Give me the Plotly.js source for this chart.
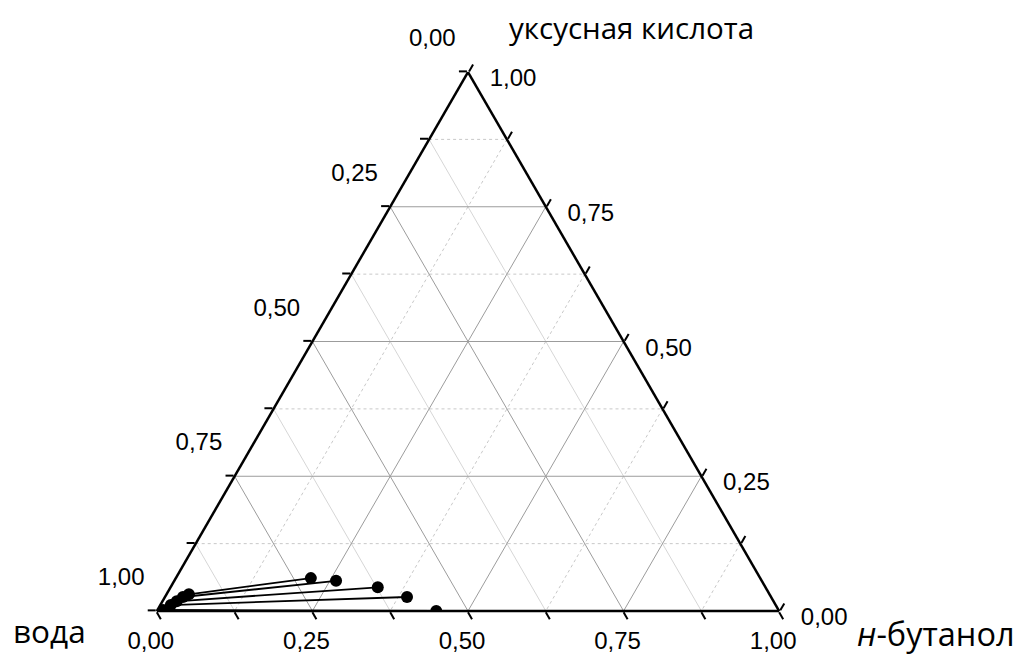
<!DOCTYPE html>
<html>
<head>
<meta charset="utf-8">
<script src="https://cdn.plot.ly/plotly-3.0.1.min.js"></script>
<style>html,body{margin:0;padding:0;background:#fff;}#chart{width:1021px;height:655px;}</style>
</head>
<body>
<div id="chart"></div>
<script>
// ---- data (mole fractions) ----
// aqueous (water-rich) phase ends of tie lines
const aqAcetic  = [0.031, 0.026, 0.018, 0.011, 0.002];
const aqButanol = [0.036, 0.029, 0.023, 0.017, 0.009];
// organic (butanol-rich) phase ends of tie lines
const orgAcetic  = [0.061, 0.056, 0.044, 0.026, 0.000];
const orgButanol = [0.217, 0.260, 0.333, 0.389, 0.449];

// axis ticks
const tickVals   = [0, 0.125, 0.25, 0.375, 0.5, 0.625, 0.75, 0.875, 1];
const tickLabels = ['0,00', '', '0,25', '', '0,50', '', '0,75', '', '1,00'];
const majorVals  = [0.25, 0.5, 0.75];
const minorVals  = [0.125, 0.375, 0.625, 0.875];

// vertex titles
const titleAcetic  = 'уксусная кислота';
const titleWater   = 'вода';
const titleButanol = '<i>н</i>-бутанол';

// ---- build traces ----
const traces = [];
function gridLine(kind, v, style) {
  let a, b, c;
  if (kind === 'acetic') { a = [v, v]; b = [1 - v, 0]; c = [0, 1 - v]; }
  else if (kind === 'water') { a = [1 - v, 0]; b = [v, v]; c = [0, 1 - v]; }
  else { a = [1 - v, 0]; b = [0, 1 - v]; c = [v, v]; }
  traces.push({type: 'scatterternary', mode: 'lines', a: a, b: b, c: c,
    line: style, hoverinfo: 'skip', showlegend: false});
}
const minorDashed = {color: '#c8c8c8', width: 1, dash: '3px,3px'};
const minorSolid  = {color: '#d6d6d6', width: 1};
const major       = {color: '#9c9c9c', width: 1};
minorVals.forEach(v => {
  gridLine('acetic', v, minorDashed);
  gridLine('butanol', v, minorDashed);
  gridLine('water', v, minorSolid);
});
majorVals.forEach(v => {
  gridLine('acetic', v, major);
  gridLine('butanol', v, major);
  gridLine('water', v, major);
});

for (let i = 0; i < aqAcetic.length; i++) {
  const aA = [aqAcetic[i], orgAcetic[i]];
  const aB = [aqButanol[i], orgButanol[i]];
  const aW = aA.map((v, k) => 1 - v - aB[k]);
  traces.push({type: 'scatterternary', mode: 'lines+markers',
    a: aA, b: aW, c: aB, cliponaxis: true,
    line: {color: '#000', width: 1.8},
    marker: {color: '#000', size: 12},
    showlegend: false, hoverinfo: 'skip'});
}

// ---- layout ----
const W = 1021, H = 655;
const M = {l: 118, r: 203, t: 72, b: 44};
const pw = W - M.l - M.r, ph = H - M.t - M.b;
const px = x => (x - M.l) / pw;
const py = y => (H - M.b - y) / ph;

const NB = '\u00a0';
const tickFont = {family: 'Liberation Sans, Arial, sans-serif', size: 24, color: '#000'};
function axis(text) {
  return {
    tickmode: 'array', tickvals: tickVals, ticktext: text,
    ticks: 'outside', ticklen: 8, tickwidth: 2, tickcolor: '#000',
    showline: true, linecolor: '#000', linewidth: 2.5,
    showgrid: false, tickfont: tickFont, title: {text: ''}
  };
}
// edge labels run opposite to each Plotly axis direction
const reversedLabels = tickLabels.slice().reverse();
// left edge (water): lift labels up-left like the reference
const leftText   = reversedLabels.map(t => t ? t + '<br>' + NB + '<br>' + NB : t);
// bottom edge (butanol): nudge labels slightly left
const bottomText = reversedLabels.map(t => t ? t + NB + NB + NB : t);
// right edge (acetic acid): push labels right and level with tick
const rightText  = reversedLabels.map(t => t ? NB + '<br>' + NB + NB + t : t);

const titleFamily = 'Open Sans, Noto Sans, sans-serif';
const layout = {
  width: W, height: H,
  margin: M,
  paper_bgcolor: '#fff',
  showlegend: false,
  ternary: {
    sum: 1,
    bgcolor: '#fff',
    aaxis: axis(leftText),     // left edge: water fraction
    baxis: axis(bottomText),   // bottom edge: butanol fraction
    caxis: axis(rightText)     // right edge: acetic acid fraction
  },
  annotations: [
    {text: titleAcetic, xref: 'paper', yref: 'paper', x: px(507), y: py(28),
     xanchor: 'left', yanchor: 'middle', showarrow: false,
     font: {family: titleFamily, size: 29.5, color: '#000'}},
    {text: titleWater, xref: 'paper', yref: 'paper', x: px(11), y: py(630),
     xanchor: 'left', yanchor: 'middle', showarrow: false,
     font: {family: titleFamily, size: 31.5, color: '#000'}},
    {text: titleButanol, xref: 'paper', yref: 'paper', x: px(855), y: py(633),
     xanchor: 'left', yanchor: 'middle', showarrow: false,
     font: {family: titleFamily, size: 32.5, color: '#000'}}
  ]
};

Plotly.newPlot('chart', traces, layout, {staticPlot: true, displayModeBar: false});
</script>
</body>
</html>
